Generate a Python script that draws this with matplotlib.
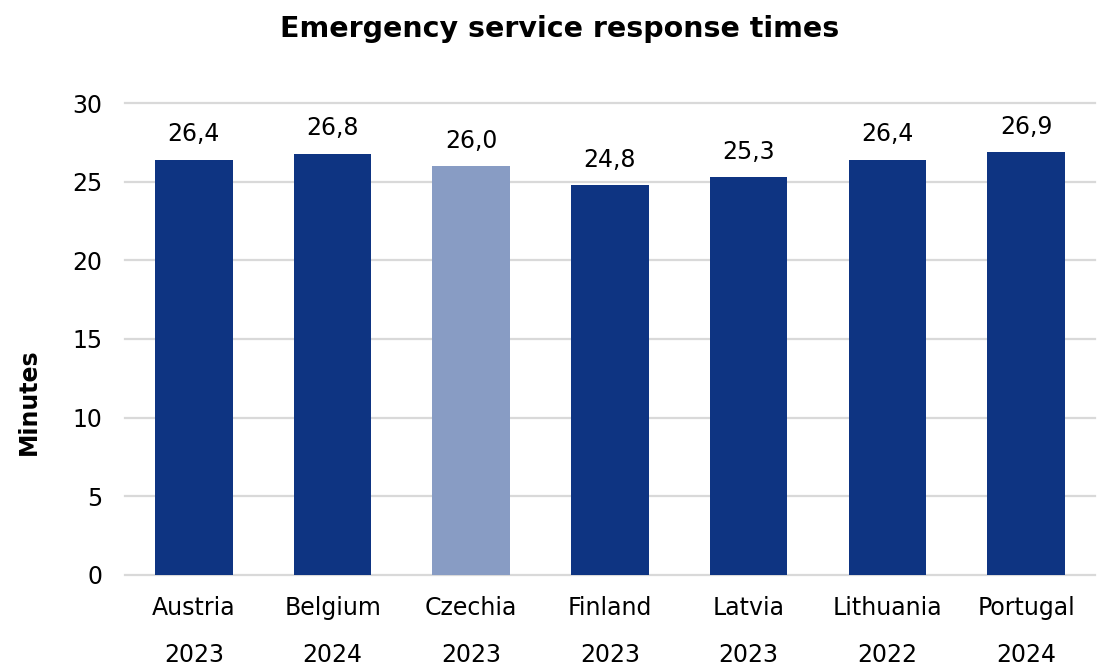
import matplotlib.pyplot as plt

# data
countries = ['Austria', 'Belgium', 'Czechia', 'Finland', 'Latvia', 'Lithuania', 'Portugal']
years = ['2023', '2024', '2023', '2023', '2023', '2022', '2024']
minutes = [26.4, 26.8, 26.0, 24.8, 25.3, 26.4, 26.9]
highlight = 'Czechia'

dark = '#0E3482'
light = '#889CC4'
colors = [light if c == highlight else dark for c in countries]

fig = plt.figure(figsize=(11.02, 6.66), dpi=100)
ax = fig.add_axes([0.113, 0.137, 0.881, 0.708])

x = range(len(countries))
bars = ax.bar(x, minutes, width=0.56, color=colors, zorder=3)

# value labels with comma decimals
for b, v in zip(bars, minutes):
    ax.text(b.get_x() + b.get_width() / 2, v + 0.85, f'{v:.1f}'.replace('.', ','),
            ha='center', va='bottom', fontsize=17)

ax.set_xlim(-0.5, len(countries) - 0.5)
ax.set_ylim(0, 30)
ax.set_yticks(range(0, 31, 5))
ax.set_xticks(list(x))
ax.set_xticklabels([c + '\n' + y for c, y in zip(countries, years)], linespacing=2.25)
ax.tick_params(axis='both', length=0, labelsize=17)
ax.tick_params(axis='x', pad=15)
ax.tick_params(axis='y', pad=16)

ax.grid(axis='y', color='#D9D9D9', linewidth=1.6, zorder=0)
for ln in ax.get_ygridlines():
    ln.set_clip_on(False)
for s in ax.spines.values():
    s.set_visible(False)

ax.set_ylabel('Minutes', fontsize=17, fontweight='bold')
ax.yaxis.set_label_coords(-0.086, 0.367)
fig.text(0.508, 0.957, 'Emergency service response times', ha='center', va='center',
         fontsize=20.5, fontweight='bold')

fig.savefig('out.png', dpi=100)
